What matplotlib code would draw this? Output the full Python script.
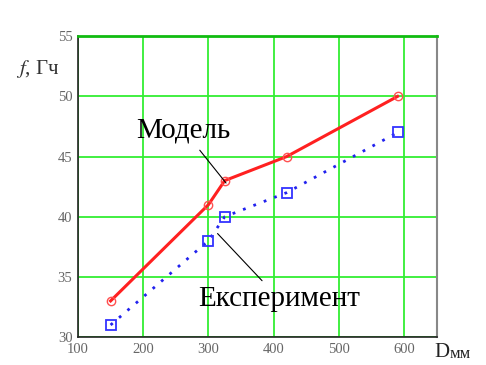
import numpy as np
import matplotlib.pyplot as plt

plt.rcParams['font.family'] = ['Liberation Serif', 'DejaVu Serif']
plt.rcParams['mathtext.fontset'] = 'stix'

# frequency vs diameter
d_model = [150, 300, 325, 420, 590]
f_model = [33, 41, 43, 45, 50]
d_exp = [150, 300, 325, 420, 590]
f_exp = [31, 38, 40, 42, 47]

x_ticks = [100, 200, 300, 400, 500, 600]
y_ticks = [30, 35, 40, 45, 50, 55]

fig = plt.figure(figsize=(4.86, 3.65), dpi=100)
ax = fig.add_axes([0.1605, 0.0767, 0.738, 0.824])

ax.set_xlim(100, 650)
ax.set_ylim(30, 55)
ax.set_xticks(x_ticks)
ax.set_yticks(y_ticks)
ax.grid(True, color='#33ee33', linewidth=1.3)
ax.set_axisbelow(True)

ax.plot(d_model, f_model, color='#ff2020', linewidth=2.2, marker='o',
        markersize=6, markerfacecolor='none', markeredgecolor='#ff5050',
        markeredgewidth=1.0, zorder=3)
ax.plot(d_exp, f_exp, color='#2222ee', linewidth=2.0, linestyle=(0, (1, 3)),
        marker='s', markersize=7, markerfacecolor='none',
        markeredgecolor='#3333ff', markeredgewidth=1.3, zorder=3)

ax.annotate('Модель', xy=(327, 42.8), xytext=(262, 47.2),
            fontsize=21, ha='center', va='center',
            arrowprops=dict(arrowstyle='-', color='black', lw=0.8,
                            shrinkA=4, shrinkB=0))
ax.annotate('Експеримент', xy=(314, 38.6), xytext=(408, 33.2),
            fontsize=21, ha='center', va='center',
            arrowprops=dict(arrowstyle='-', color='black', lw=0.8,
                            shrinkA=2, shrinkB=0))

for side in ['left', 'bottom']:
    ax.spines[side].set_color('#222222')
    ax.spines[side].set_linewidth(1.2)
ax.spines['top'].set_color('#11bb11')
ax.spines['top'].set_linewidth(2.0)
ax.spines['right'].set_color('#888888')
ax.spines['right'].set_linewidth(1.5)

ax.tick_params(length=0, labelsize=10.5, labelcolor='#666666', pad=4)

fig.text(0.078, 0.81, r'$f$' + ', Гч', fontsize=15, ha='center', va='center',
         color='#333333')
fig.text(0.893, 0.035, 'D', fontsize=15, ha='left', va='center', color='#222222')
fig.text(0.925, 0.03, 'мм', fontsize=12, ha='left', va='center', color='#222222')

fig.savefig('out.png', dpi=100, facecolor='white')
